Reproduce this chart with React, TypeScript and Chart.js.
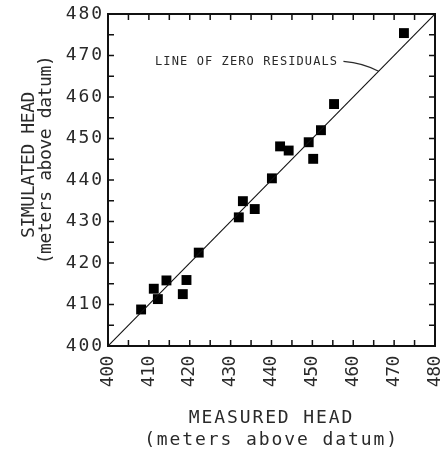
import { useEffect, useRef } from 'react';
import { Chart, registerables } from 'chart.js';

Chart.register(...registerables);

// ---- data ----
const measuredHead = [472.4, 455.3, 452.1, 449.1, 450.2, 442.1, 444.2, 440.1, 433.0, 435.9, 432.0, 422.2, 414.3, 419.2, 411.2, 418.3, 412.2, 408.1];
const simulatedHead = [475.4, 458.3, 452.0, 449.1, 445.1, 448.1, 447.1, 440.4, 434.9, 433.0, 431.0, 422.5, 415.8, 415.9, 413.8, 412.5, 411.3, 408.8];
const zeroResidualLine = [400, 480];
const axisMin = 400;
const axisMax = 480;
const majorStep = 10;
const minorStep = 5;
const xTitleLines = ['MEASURED HEAD', '(meters above datum)'];
const yTitleLines = ['SIMULATED HEAD', '(meters above datum)'];
const annotationText = 'LINE OF ZERO RESIDUALS';
const annotationAt = [411.5, 468.4];
const leaderX = [457.6, 462.5, 466.2];
const leaderY = [468.6, 468.2, 466.2];

const FONT = "'DejaVu Sans Mono', monospace";
const INK = '#2a2a2a';

const frameAndText = {
  id: 'frameAndText',
  beforeUpdate(chart: any) {
    chart.ctx.letterSpacing = '1.9px';
  },
  beforeLayout(chart: any) {
    chart.ctx.letterSpacing = '1.9px';
  },
  beforeDraw(chart: any) {
    const ctx = chart.ctx;
    ctx.letterSpacing = '1.9px';
    const xs = chart.scales.x;
    if (xs && !xs.__lsPatched) {
      const orig = xs.drawLabels.bind(xs);
      xs.drawLabels = (ca: any) => {
        const prev = ctx.letterSpacing;
        ctx.letterSpacing = '-0.4px';
        orig(ca);
        ctx.letterSpacing = prev;
      };
      xs.__lsPatched = true;
    }
  },
  afterDraw(chart: any) {
    const ctx = chart.ctx;
    const { left, right, top, bottom } = chart.chartArea;
    const xs = chart.scales.x;
    const ys = chart.scales.y;
    ctx.save();
    ctx.strokeStyle = '#111';
    // frame
    ctx.lineWidth = 2;
    ctx.strokeRect(left, top, right - left, bottom - top);
    // inward ticks
    ctx.lineWidth = 1.5;
    ctx.beginPath();
    for (let v = axisMin + minorStep; v < axisMax; v += minorStep) {
      const px = xs.getPixelForValue(v);
      ctx.moveTo(px, bottom);
      ctx.lineTo(px, bottom - 6);
      ctx.moveTo(px, top);
      ctx.lineTo(px, top + 6);
      const py = ys.getPixelForValue(v);
      ctx.moveTo(left, py);
      ctx.lineTo(left + 6, py);
      ctx.moveTo(right, py);
      ctx.lineTo(right - 6, py);
    }
    ctx.stroke();

    // annotation
    ctx.fillStyle = INK;
    ctx.strokeStyle = INK;
    ctx.font = `12px ${FONT}`;
    ctx.letterSpacing = '1.1px';
    ctx.textAlign = 'left';
    ctx.textBaseline = 'middle';
    ctx.fillText(annotationText, xs.getPixelForValue(annotationAt[0]), ys.getPixelForValue(annotationAt[1]));
    ctx.lineWidth = 1.2;
    ctx.beginPath();
    ctx.moveTo(xs.getPixelForValue(leaderX[0]), ys.getPixelForValue(leaderY[0]));
    ctx.quadraticCurveTo(
      xs.getPixelForValue(leaderX[1]), ys.getPixelForValue(leaderY[1]),
      xs.getPixelForValue(leaderX[2]), ys.getPixelForValue(leaderY[2])
    );
    ctx.stroke();

    // y title (rotated)
    ctx.font = `18px ${FONT}`;
    ctx.letterSpacing = '-0.4px';
    ctx.textAlign = 'center';
    ctx.textBaseline = 'alphabetic';
    const pos = [
      [34, 165],
      [51, 160],
    ];
    yTitleLines.forEach((line, i) => {
      ctx.save();
      ctx.translate(pos[i][0], pos[i][1]);
      ctx.rotate(-Math.PI / 2);
      ctx.fillText(line, 0, 0);
      ctx.restore();
    });
    ctx.restore();
  },
};

export default function App() {
  const ref = useRef<HTMLCanvasElement | null>(null);

  useEffect(() => {
    document.body.style.margin = '0';
    const canvas = ref.current;
    if (!canvas) return;
    const points = measuredHead.map((m, i) => ({ x: m, y: simulatedHead[i] }));
    const chart = new Chart(canvas, {
      type: 'scatter',
      data: {
        datasets: [
          {
            type: 'line',
            data: zeroResidualLine.map((v) => ({ x: v, y: v })),
            borderColor: '#111',
            borderWidth: 1.1,
            pointRadius: 0,
            fill: false,
          } as any,
          {
            data: points,
            pointStyle: 'rect',
            pointRadius: 7,
            backgroundColor: '#000',
            borderColor: '#000',
            borderWidth: 0,
          },
        ],
      },
      options: {
        animation: false,
        responsive: false,
        devicePixelRatio: 1,
        layout: { padding: { left: 0, right: 10, top: 14, bottom: 0 } },
        plugins: { legend: { display: false }, tooltip: { enabled: false } },
        scales: {
          x: {
            type: 'linear',
            min: axisMin,
            max: axisMax,
            grid: { display: false, drawTicks: false },
            border: { display: false },
            afterFit: (s: any) => {
              s.height = 108;
              s.paddingLeft = 0;
              s.paddingRight = 0;
            },
            ticks: {
              stepSize: majorStep,
              minRotation: 90,
              maxRotation: 90,
              padding: 10,
              color: INK,
              font: { family: FONT, size: 18 },
            },
            title: {
              display: true,
              text: xTitleLines,
              color: INK,
              font: { family: FONT, size: 18, lineHeight: '22px' },
              padding: { top: 0, bottom: 3 },
            },
          },
          y: {
            type: 'linear',
            min: axisMin,
            max: axisMax,
            grid: { display: false, drawTicks: false },
            border: { display: false },
            afterFit: (s: any) => {
              s.width = 108;
              s.paddingTop = 0;
              s.paddingBottom = 0;
            },
            ticks: {
              stepSize: majorStep,
              padding: 4,
              color: INK,
              font: { family: FONT, size: 18 },
            },
          },
        },
      },
      plugins: [frameAndText],
    });
    return () => chart.destroy();
  }, []);

  return (
    <div style={{ width: 445, height: 454 }}>
      <canvas ref={ref} width={445} height={454} style={{ width: 445, height: 454, display: 'block' }} />
    </div>
  );
}
